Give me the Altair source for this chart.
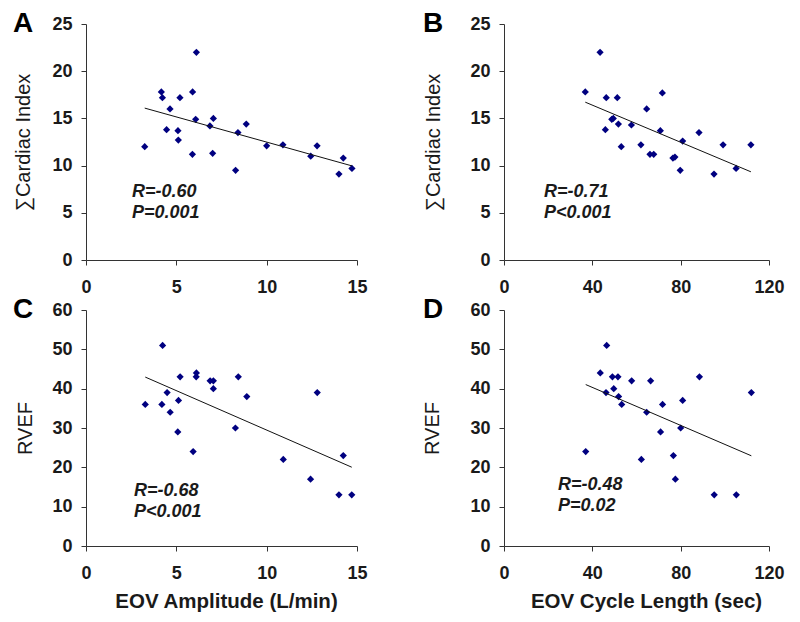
import altair as alt
import pandas as pd

# Panel A: EOV amplitude vs sum Cardiac Index
a_x = [3.25, 4.17, 4.23, 4.65, 4.46, 5.09, 5.11, 5.20, 5.90, 6.11, 6.07, 5.89, 6.86,
       7.05, 7.01, 8.41, 8.28, 8.87, 10.0, 10.9, 12.44, 12.79, 14.0, 14.24, 14.72]
a_y = [12.0, 17.8, 17.2, 16.0, 13.8, 13.7, 12.7, 17.2, 17.8, 22.0, 14.9, 11.2, 14.2,
       15.0, 11.3, 13.5, 9.5, 14.4, 12.1, 12.2, 11.0, 12.1, 9.1, 10.8, 9.7]

# Panel B: EOV cycle length vs sum Cardiac Index
b_x = [36.8, 43.5, 46.3, 45.9, 48.8, 49.5, 51.3, 51.8, 53.1, 57.7, 62.0, 64.6, 66.1,
       67.8, 70.8, 71.7, 76.5, 77.4, 79.8, 80.9, 88.3, 95.1, 99.2, 105.1, 111.8]
b_y = [17.8, 22.0, 17.2, 13.8, 14.9, 15.0, 17.2, 14.4, 12.0, 14.3, 12.2, 16.0, 11.2,
       11.2, 13.7, 17.7, 10.8, 10.9, 9.5, 12.6, 13.5, 9.1, 12.2, 9.7, 12.2]

# Panel C: EOV amplitude vs RVEF
c_x = [3.28, 4.24, 4.20, 4.49, 4.66, 5.12, 5.21, 5.08, 5.93, 6.11, 6.10, 6.87, 7.05,
       7.05, 8.27, 8.43, 8.90, 10.92, 12.43, 12.80, 14.0, 14.24, 14.71]
c_y = [36, 51, 36, 39, 34, 37, 43, 29, 24, 44, 43, 42, 42,
       40, 30, 43, 38, 22, 17, 39, 13, 23, 13]

# Panel D: EOV cycle length vs RVEF
d_x = [37.0, 43.6, 46.5, 46.2, 49.1, 49.7, 51.6, 51.9, 53.3, 57.8, 62.2, 64.6, 66.4,
       70.9, 71.8, 76.7, 77.6, 80.0, 80.9, 88.5, 95.2, 105.2, 112.0]
d_y = [24, 44, 51, 39, 43, 40, 43, 38, 36, 42, 22, 34, 42,
       29, 36, 23, 17, 30, 37, 43, 13, 13, 39]

amp_ticks = [0, 5, 10, 15]
cyc_ticks = [0, 40, 80, 120]
ci_ticks = [0, 5, 10, 15, 20, 25]
ef_ticks = [0, 10, 20, 30, 40, 50, 60]

FONT = "Liberation Sans"
AX = "#333333"
TXT = "#1a1a1a"


def panel(xs, ys, xdom, xticks, ydom, yticks, ytitle, xtitle, letter, r_txt, p_txt,
          w, h, letter_dx, ytitle_dx, ann_x, ann_y, xtitle_x):
    df = pd.DataFrame({"x": xs, "y": ys})
    xaxis_kw = dict(values=xticks, grid=False, domainColor=AX, tickColor=AX, tickSize=5,
                    labelFont=FONT, labelFontSize=18, labelFontWeight="bold",
                    labelColor=TXT, labelPadding=13, labelFlush=False, labelOverlap=False)
    if xtitle:
        xaxis_kw.update(title=xtitle, titleFont=FONT, titleFontSize=20.5,
                        titleFontWeight="bold", titleColor=TXT, titleY=45,
                        titleX=xtitle_x, titleBaseline="top", titleAlign="center")
    else:
        xaxis_kw.update(title=None)
    yaxis = alt.Axis(values=yticks, grid=False, domainColor=AX, tickColor=AX, tickSize=5,
                     labelFont=FONT, labelFontSize=18, labelFontWeight="bold",
                     labelColor=TXT, labelPadding=9, labelFlush=False, labelOverlap=False,
                     title=ytitle, titleFont=FONT, titleFontSize=20, titleFontWeight="normal",
                     titleColor=TXT, titleAngle=270, titleBaseline="middle",
                     titleAlign="center", titleX=ytitle_dx, titleY=h / 2)
    x_enc = alt.X("x:Q", scale=alt.Scale(domain=xdom, nice=False, zero=False),
                  axis=alt.Axis(**xaxis_kw))
    y_enc = alt.Y("y:Q", scale=alt.Scale(domain=ydom, nice=False, zero=False), axis=yaxis)
    base = alt.Chart(df)
    pts = base.mark_point(shape="diamond", filled=True, size=52, color="#000080",
                          opacity=1).encode(x=x_enc, y=y_enc)
    fit = base.transform_regression("x", "y").mark_line(
        color="#111111", strokeWidth=1).encode(x=x_enc, y=y_enc)
    one = pd.DataFrame({"k": [0]})
    lab = alt.Chart(one).mark_text(text=letter, font=FONT, fontSize=28, fontWeight="bold",
                                   color="#000000", align="center", baseline="middle"
                                   ).encode(x=alt.value(letter_dx), y=alt.value(0))
    r_mark = alt.Chart(one).mark_text(text=r_txt, font=FONT, fontSize=18, fontWeight="bold",
                                      fontStyle="italic", color=TXT, align="left",
                                      baseline="middle").encode(x=alt.value(ann_x),
                                                                y=alt.value(ann_y))
    p_mark = alt.Chart(one).mark_text(text=p_txt, font=FONT, fontSize=18, fontWeight="bold",
                                      fontStyle="italic", color=TXT, align="left",
                                      baseline="middle").encode(x=alt.value(ann_x),
                                                                y=alt.value(ann_y + 21))
    return alt.layer(pts, fit, lab, r_mark, p_mark).properties(width=w, height=h)


H = 236
pa = panel(a_x, a_y, [0, 15], amp_ticks, [0, 25], ci_ticks, "\u2211Cardiac Index", "",
           "A", "R=-0.60", "P=0.001", 271, H, -63, -63, 46, 168, 0)
pb = panel(b_x, b_y, [0, 120], cyc_ticks, [0, 25], ci_ticks, "\u2211Cardiac Index", "",
           "B", "R=-0.71", "P<0.001", 265, H, -71, -71, 40, 168, 0)
pc = panel(c_x, c_y, [0, 15], amp_ticks, [0, 60], ef_ticks, "RVEF", "EOV Amplitude (L/min)",
           "C", "R=-0.68", "P<0.001", 271, H, -63, -61, 48, 181, 140)
pd_ = panel(d_x, d_y, [0, 120], cyc_ticks, [0, 60], ef_ticks, "RVEF", "EOV Cycle Length (sec)",
            "D", "R=-0.48", "P=0.02", 265, H, -71, -72, 54, 175, 142)

chart = alt.concat(pa, pb, pc, pd_, columns=2, spacing={"row": 50, "column": 147},
                   bounds="flush").properties(
    padding={"left": 4, "top": 2, "right": 0, "bottom": 2},
    background="white",
).configure_view(strokeWidth=0)

chart.save("out.html", embed_options={"renderer": "svg", "actions": False})
